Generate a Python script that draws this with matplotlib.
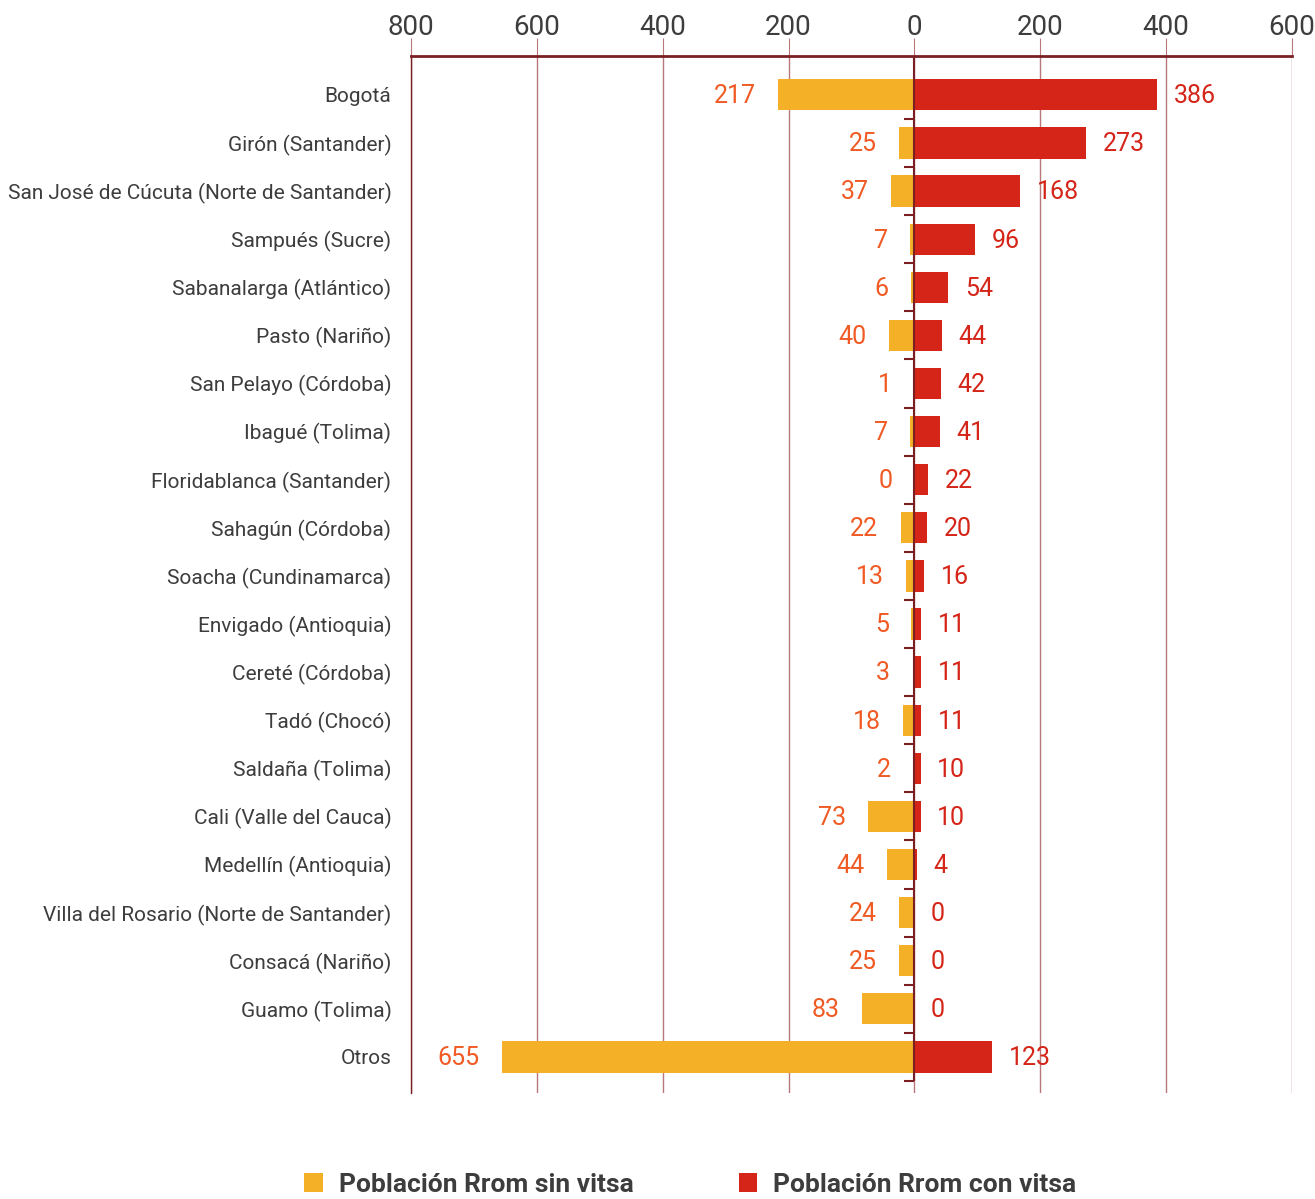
import matplotlib.pyplot as plt
import numpy as np

plt.rcParams['font.family'] = ['Roboto', 'DejaVu Sans']

cats = ['Bogotá', 'Girón (Santander)', 'San José de Cúcuta (Norte de Santander)',
        'Sampués (Sucre)', 'Sabanalarga (Atlántico)', 'Pasto (Nariño)',
        'San Pelayo (Córdoba)', 'Ibagué (Tolima)', 'Floridablanca (Santander)',
        'Sahagún (Córdoba)', 'Soacha (Cundinamarca)', 'Envigado (Antioquia)',
        'Cereté (Córdoba)', 'Tadó (Chocó)', 'Saldaña (Tolima)',
        'Cali (Valle del Cauca)', 'Medellín (Antioquia)',
        'Villa del Rosario (Norte de Santander)', 'Consacá (Nariño)',
        'Guamo (Tolima)', 'Otros']
sin_vitsa = [217, 25, 37, 7, 6, 40, 1, 7, 0, 22, 13, 5, 3, 18, 2, 73, 44, 24, 25, 83, 655]
con_vitsa = [386, 273, 168, 96, 54, 44, 42, 41, 22, 20, 16, 11, 11, 11, 10, 10, 4, 0, 0, 0, 123]
xticks = [-800, -600, -400, -200, 0, 200, 400, 600]

yellow = '#f4b026'
red = '#d52518'
orange_txt = '#f05a24'
dark = '#7a1f22'
grid_c = '#b8777b'
txt = '#3d3d3d'

fig = plt.figure(figsize=(13.15, 11.99), dpi=100)
ax = fig.add_axes([0.3125, 0.0884, 0.67, 0.865])

y = np.arange(len(cats))
sin = np.array(sin_vitsa)
con = np.array(con_vitsa)

ax.barh(y, -sin, height=0.65, color=yellow, label='Población Rrom sin vitsa', zorder=2)
ax.barh(y, con, height=0.65, color=red, label='Población Rrom con vitsa', zorder=2)

for yi, s, c in zip(y, sin, con):
    ax.annotate(str(s), (-s, yi), xytext=(-16, -1), textcoords='offset points',
                ha='right', va='center', color=orange_txt, fontsize=18)
    ax.annotate(str(c), (c, yi), xytext=(12, -1), textcoords='offset points',
                ha='left', va='center', color=red, fontsize=18)

ax.set_xlim(-800, 600)
ax.set_ylim(len(cats) - 0.25, -0.81)
ax.set_xticks(xticks)
ax.set_xticklabels([str(abs(t)) for t in xticks])
ax.xaxis.tick_top()
ax.tick_params(axis='x', length=13, color=grid_c, labelsize=20, labelcolor=txt, pad=-2)
ax.grid(axis='x', color=grid_c, linewidth=1, zorder=0)

ax.set_yticks(y)
ax.set_yticklabels(cats)
ax.tick_params(axis='y', length=0, pad=14, labelsize=15, labelcolor=txt)

# zero line with small ticks between rows
ax.vlines(0, -0.81, len(cats) - 0.5, color=dark, linewidth=1.5, zorder=3)
ax.hlines(np.arange(len(cats)) + 0.5, -16, 0, color=dark, linewidth=1.5, zorder=3)

for s in ['right', 'bottom']:
    ax.spines[s].set_visible(False)
ax.spines['top'].set_color(dark)
ax.spines['top'].set_linewidth(2)
ax.spines['left'].set_color(dark)
ax.spines['left'].set_linewidth(1)

leg = fig.legend(loc='lower center', bbox_to_anchor=(0.525, -0.018), ncol=2, frameon=False,
                 handlelength=0.7, handleheight=0.7, columnspacing=4, handletextpad=0.6,
                 prop={'size': 19, 'weight': 'bold'})
for t in leg.get_texts():
    t.set_color(txt)

fig.savefig('out.png', dpi=100)
